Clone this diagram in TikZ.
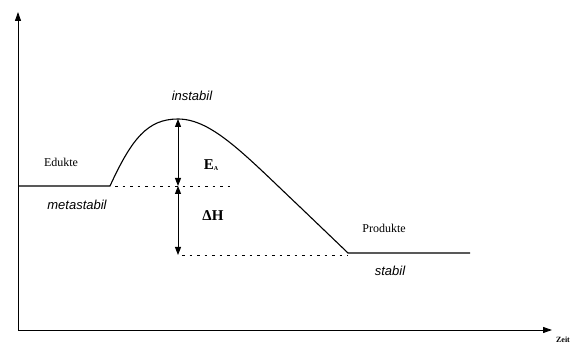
\documentclass[tikz,border=0pt]{standalone}
\usepackage{fontspec}
\setmainfont{Liberation Serif}
\newfontfamily\handfont{Liberation Sans}
\usetikzlibrary{arrows.meta}
\begin{document}
\begin{tikzpicture}[x=1pt,y=-1pt,
  axis/.style={line width=0.9pt,-{Triangle[length=9pt,width=6pt]}},
  curve/.style={line width=1.1pt},
  guide/.style={line width=0.8pt,dash pattern=on 2.5pt off 5pt},
  dim/.style={line width=1pt,{Triangle[length=8pt,width=6pt]}-{Triangle[length=8pt,width=6pt]}},
  lab/.style={font=\fontsize{12}{14}\selectfont},
  hand/.style={font=\handfont\itshape\fontsize{13}{16}\selectfont},
  sym/.style={font=\bfseries\fontsize{15}{17}\selectfont}]
\useasboundingbox (0,0) rectangle (578,347);
\coordinate (o) at (18,330);
\coordinate (ytip) at (18,12);
\coordinate (xtip) at (552,330);
\draw[axis] (o) -- (ytip);
\draw[axis] (o) -- (xtip);
\node[font=\bfseries\fontsize{8}{9}\selectfont] (zeit) at (563,340) {Zeit};
\coordinate (e0) at (18,186);
\coordinate (e1) at (110,186);
\coordinate (peak) at (178,119);
\coordinate (p0) at (348,253);
\coordinate (p1) at (470,253);
\draw[curve] (e0) -- (e1) .. controls (132,138) and (148,119) .. (peak)
  .. controls (212,119) and (245,155) .. (300,207) -- (p0) -- (p1);
\coordinate (g0) at (115,186);
\coordinate (g1) at (233,186);
\coordinate (h0) at (182,255);
\coordinate (h1) at (348,255);
\draw[guide] (g0) -- (g1);
\draw[guide] (h0) -- (h1);
\coordinate (mid) at (178,186);
\coordinate (low) at (178,255);
\draw[dim] (peak) -- (mid);
\draw[dim] (mid) -- (low);
\node[sym] (ea) at (211,165) {E\raisebox{-0.2ex}{\fontsize{6}{7}\selectfont A}};
\node[sym] (dh) at (213,216) {ΔH};
\node[lab] (edukte) at (61,162) {Edukte};
\node[lab] (produkte) at (384,228) {Produkte};
\node[hand] (instabil) at (192,96) {instabil};
\node[hand] (metastabil) at (77,205) {metastabil};
\node[hand] (stabil) at (390,271) {stabil};
\end{tikzpicture}
\end{document}
